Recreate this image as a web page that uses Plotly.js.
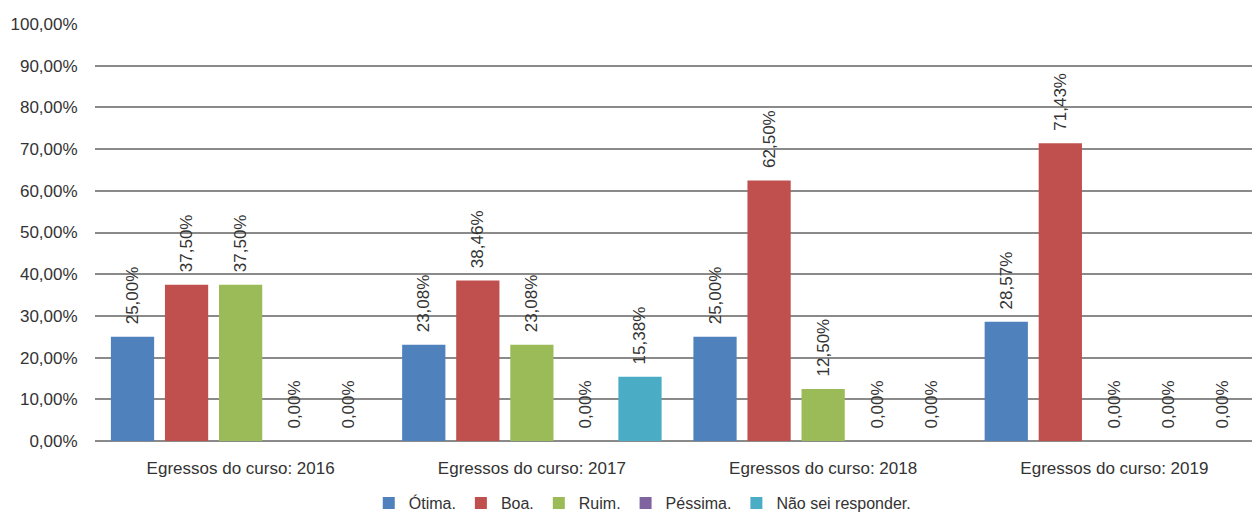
<!DOCTYPE html>
<html>
<head>
<meta charset="utf-8">
<script src="https://cdn.plot.ly/plotly-3.0.1.min.js"></script>
<style>html,body{margin:0;padding:0;background:#fff;}#chart{width:1252px;height:515px;}</style>
</head>
<body>
<div id="chart"></div>
<script>
const categories = ["Egressos do curso: 2016", "Egressos do curso: 2017", "Egressos do curso: 2018", "Egressos do curso: 2019"];
const seriesNames = ["Ótima.", "Boa.", "Ruim.", "Péssima.", "Não sei responder."];
const otima = [25.00, 23.08, 25.00, 28.57];
const boa = [37.50, 38.46, 62.50, 71.43];
const ruim = [37.50, 23.08, 12.50, 0.00];
const pessima = [0.00, 0.00, 0.00, 0.00];
const naoSei = [0.00, 15.38, 0.00, 0.00];
const yTicks = [0, 10, 20, 30, 40, 50, 60, 70, 80, 90, 100];

const colors = ["#4F81BD", "#C0504D", "#9BBB59", "#8064A2", "#4BACC6"];
const allValues = [otima, boa, ruim, pessima, naoSei];
const FONT = "Liberation Sans, Arial, sans-serif";
const TXT = "#333333";
const fmt = v => v.toFixed(2).replace(".", ",") + "%";

const traces = allValues.map((vals, i) => ({
  type: "bar",
  name: seriesNames[i],
  x: categories,
  y: vals,
  marker: {color: colors[i]},
  text: vals.map(v => "\u00a0\u00a0" + fmt(v)),
  texttemplate: "%{text}",
  textposition: "outside",
  textangle: -90,
  constraintext: "none",
  cliponaxis: false,
  textfont: {family: FONT, size: 17, color: TXT},
  hoverinfo: "skip"
}));

const layout = {
  width: 1252, height: 515,
  margin: {l: 95, r: 0, t: 24, b: 74, autoexpand: false},
  paper_bgcolor: "#fff", plot_bgcolor: "#fff",
  separators: ",.",
  barmode: "group",
  bargap: 0.072,
  bargroupgap: 0.2,
  font: {family: FONT, size: 17, color: TXT},
  xaxis: {
    type: "category",
    range: [-0.5, 3.4725],
    showgrid: false,
    showline: false,
    zeroline: false,
    ticks: "outside", ticklen: 12, tickcolor: "rgba(0,0,0,0)",
    tickfont: {family: FONT, size: 17, color: TXT}
  },
  yaxis: {
    range: [0, 100],
    tickvals: yTicks,
    ticktext: yTicks.map(fmt),
    showgrid: true,
    gridcolor: "#8a8a8a",
    gridwidth: 2,
    zeroline: true,
    zerolinecolor: "#8a8a8a",
    zerolinewidth: 2,
    showline: false,
    ticks: "outside", ticklen: 13, tickcolor: "rgba(0,0,0,0)",
    tickfont: {family: FONT, size: 17, color: TXT}
  },
  showlegend: true,
  legend: {
    orientation: "h",
    x: 0.473, xanchor: "center",
    y: -0.149, yanchor: "middle",
    itemwidth: 30,
    font: {family: FONT, size: 16, color: TXT},
    itemclick: false
  }
};

Plotly.newPlot("chart", traces, layout, {staticPlot: true, displayModeBar: false});
</script>
</body>
</html>
